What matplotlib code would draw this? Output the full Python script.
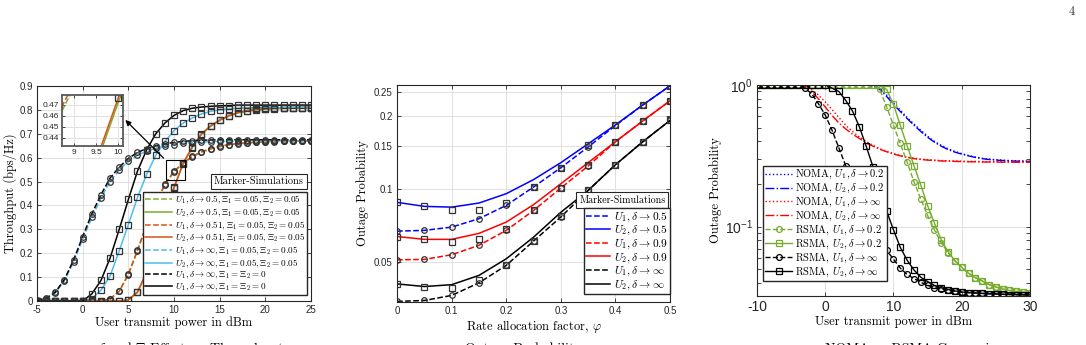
import numpy as np
import matplotlib
matplotlib.use('Agg')
import matplotlib.pyplot as plt
from matplotlib.patches import Rectangle
from matplotlib.ticker import FormatStrFormatter, FixedLocator, NullLocator

plt.rcParams['font.family'] = ['Liberation Sans', 'DejaVu Sans']
plt.rcParams['mathtext.fontset'] = 'cm'
plt.rcParams['axes.unicode_minus'] = False
plt.rcParams['legend.fancybox'] = False
plt.rcParams['legend.edgecolor'] = '0.15'
plt.rcParams['legend.framealpha'] = 1
plt.rcParams['legend.borderaxespad'] = 0
plt.rcParams['legend.borderpad'] = 0.25
plt.rcParams['legend.handletextpad'] = 0.3
plt.rcParams['legend.labelspacing'] = 0.05

# ---------------- panel (a): throughput ----------------
p_a = np.arange(-5, 26)
thr_u1_d05 = [0, 0, 0, 0, 0, 0, 0, 0, 0.008, 0.04, 0.11, 0.21, 0.318, 0.406, 0.486, 0.541, 0.576, 0.603,
              0.623, 0.636, 0.646, 0.653, 0.658, 0.661, 0.664, 0.666, 0.667, 0.668, 0.668, 0.669, 0.669]
thr_u2_d05 = [0, 0, 0, 0, 0, 0, 0, 0, 0, 0, 0.004, 0.036, 0.118, 0.236, 0.358, 0.472, 0.574, 0.642,
              0.697, 0.731, 0.756, 0.774, 0.787, 0.795, 0.8, 0.803, 0.805, 0.806, 0.807, 0.807, 0.808]
thr_u1_d051 = [0, 0, 0, 0, 0, 0, 0, 0, 0.009, 0.041, 0.113, 0.213, 0.321, 0.41, 0.49, 0.544, 0.578, 0.605,
               0.625, 0.638, 0.648, 0.655, 0.66, 0.663, 0.665, 0.667, 0.668, 0.669, 0.67, 0.67, 0.67]
thr_u2_d051 = [0, 0, 0, 0, 0, 0, 0, 0, 0, 0, 0.005, 0.038, 0.121, 0.24, 0.362, 0.476, 0.578, 0.645,
               0.7, 0.733, 0.758, 0.776, 0.789, 0.797, 0.802, 0.805, 0.807, 0.808, 0.809, 0.81, 0.81]
thr_u1_inf = [0.002, 0.01, 0.033, 0.085, 0.163, 0.258, 0.35, 0.43, 0.5, 0.548, 0.585, 0.61, 0.627, 0.64,
              0.649, 0.655, 0.66, 0.663, 0.665, 0.667, 0.668, 0.669, 0.669, 0.67, 0.67, 0.67, 0.67, 0.67,
              0.67, 0.67, 0.67]
thr_u2_inf = [0, 0, 0, 0, 0, 0, 0.01, 0.045, 0.105, 0.21, 0.32, 0.434, 0.53, 0.61, 0.668, 0.713, 0.745,
              0.766, 0.783, 0.794, 0.8, 0.804, 0.807, 0.808, 0.809, 0.81, 0.81, 0.81, 0.81, 0.81, 0.81]
thr_u1_ideal = [0.003, 0.012, 0.037, 0.09, 0.172, 0.27, 0.365, 0.445, 0.515, 0.56, 0.597, 0.622, 0.638,
                0.65, 0.658, 0.664, 0.668, 0.671, 0.673, 0.674, 0.675, 0.675, 0.675, 0.675, 0.675, 0.675,
                0.675, 0.675, 0.675, 0.675, 0.675]
thr_u2_ideal = [0, 0, 0, 0, 0, 0, 0.03, 0.086, 0.18, 0.3, 0.425, 0.544, 0.633, 0.7, 0.745, 0.777, 0.797,
                0.807, 0.812, 0.815, 0.817, 0.818, 0.82, 0.82, 0.82, 0.82, 0.82, 0.82, 0.82, 0.82, 0.82]

green = '#77AC30'
orange = '#D95319'
lblue = '#4DBEEE'
mk = '#333333'

series_a = [
    (thr_u1_d05, green, '--', 'o', r'$U_1, \delta \rightarrow 0.5, \Xi_1 = 0.05, \Xi_2 = 0.05$'),
    (thr_u2_d05, green, '-', 's', r'$U_2, \delta \rightarrow 0.5, \Xi_1 = 0.05, \Xi_2 = 0.05$'),
    (thr_u1_d051, orange, '--', 'o', r'$U_1, \delta \rightarrow 0.51, \Xi_1 = 0.05, \Xi_2 = 0.05$'),
    (thr_u2_d051, orange, '-', 's', r'$U_2, \delta \rightarrow 0.51, \Xi_1 = 0.05, \Xi_2 = 0.05$'),
    (thr_u1_inf, lblue, '--', 'o', r'$U_1, \delta \rightarrow \infty, \Xi_1 = 0.05, \Xi_2 = 0.05$'),
    (thr_u2_inf, lblue, '-', 's', r'$U_2, \delta \rightarrow \infty, \Xi_1 = 0.05, \Xi_2 = 0.05$'),
    (thr_u1_ideal, 'k', '--', 'o', r'$U_1, \delta \rightarrow \infty, \Xi_1 = \Xi_2 = 0$'),
    (thr_u2_ideal, 'k', '-', 's', r'$U_1, \delta \rightarrow \infty, \Xi_1 = \Xi_2 = 0$'),
]

# ---------------- panel (b): outage vs rate allocation ----------------
phi = np.arange(0, 0.501, 0.05)
op_u1_d05 = [0.0669, 0.0674, 0.0695, 0.0753, 0.0854, 0.1016, 0.122, 0.1485, 0.182, 0.221, 0.265]
op_u2_d05 = [0.0879, 0.0846, 0.084, 0.0873, 0.0954, 0.109, 0.128, 0.153, 0.183, 0.221, 0.265]
op_u1_d09 = [0.051, 0.0512, 0.0535, 0.0585, 0.0674, 0.0814, 0.1006, 0.124, 0.156, 0.19, 0.23]
op_u2_d09 = [0.0636, 0.0619, 0.0619, 0.0655, 0.0729, 0.086, 0.1048, 0.128, 0.156, 0.19, 0.23]
op_u1_inf = [0.0344, 0.0347, 0.0364, 0.041, 0.0484, 0.0609, 0.0765, 0.0984, 0.1255, 0.156, 0.191]
op_u2_inf = [0.0406, 0.0396, 0.0403, 0.044, 0.0515, 0.0632, 0.08, 0.0984, 0.1255, 0.156, 0.191]
# simulation markers
sim_u1_d05 = [0.0669, 0.0674, 0.0695, 0.0753, 0.0854, 0.1016, 0.122, 0.1485, 0.182, 0.221, 0.265]
sim_u2_d05 = [0.0879, 0.0846, 0.0814, 0.0814, 0.0876, 0.102, 0.122, 0.151, 0.183, 0.221, 0.265]
sim_u1_d09 = [0.051, 0.0512, 0.0535, 0.0585, 0.0674, 0.0814, 0.1006, 0.124, 0.156, 0.19, 0.23]
sim_u2_d09 = [0.0636, 0.0619, 0.0603, 0.0619, 0.0685, 0.0814, 0.1006, 0.1255, 0.156, 0.19, 0.23]
sim_u1_inf = [0.0344, 0.0347, 0.0364, 0.041, 0.0484, 0.0609, 0.0765, 0.0984, 0.1255, 0.156, 0.191]
sim_u2_inf = [0.0406, 0.0396, 0.039, 0.0422, 0.0487, 0.0609, 0.077, 0.0984, 0.1255, 0.156, 0.191]

series_b = [
    (op_u1_d05, sim_u1_d05, 'b', '--', 'o', r'$U_1, \delta \rightarrow 0.5$'),
    (op_u2_d05, sim_u2_d05, 'b', '-', 's', r'$U_2, \delta \rightarrow 0.5$'),
    (op_u1_d09, sim_u1_d09, 'r', '--', 'o', r'$U_1, \delta \rightarrow 0.9$'),
    (op_u2_d09, sim_u2_d09, 'r', '-', 's', r'$U_2, \delta \rightarrow 0.9$'),
    (op_u1_inf, sim_u1_inf, 'k', '--', 'o', r'$U_1, \delta \rightarrow \infty$'),
    (op_u2_inf, sim_u2_inf, 'k', '-', 's', r'$U_2, \delta \rightarrow \infty$'),
]

# ---------------- panel (c): NOMA vs RSMA ----------------
p_c = np.arange(-10, 31)
noma_u1_d02 = [1]*17 + [0.99, 0.95, 0.85, 0.75, 0.665, 0.59, 0.53, 0.48, 0.435, 0.4, 0.375, 0.355, 0.34,
                        0.328, 0.318, 0.31, 0.304, 0.3, 0.297, 0.295, 0.293, 0.292, 0.291, 0.29]
noma_u2_d02 = [1]*17 + [0.98, 0.93, 0.83, 0.73, 0.65, 0.58, 0.52, 0.47, 0.428, 0.395, 0.37, 0.35, 0.336,
                        0.325, 0.316, 0.308, 0.302, 0.298, 0.295, 0.293, 0.291, 0.29, 0.289, 0.289]
noma_u1_inf = [1]*7 + [0.98, 0.93, 0.85, 0.76, 0.67, 0.59, 0.52, 0.47, 0.43, 0.4, 0.375, 0.355, 0.34,
                       0.328, 0.318, 0.31, 0.305, 0.3, 0.297, 0.295, 0.293, 0.292, 0.291, 0.29, 0.289,
                       0.289, 0.288, 0.288, 0.288, 0.287, 0.287, 0.287, 0.287, 0.287]
noma_u2_inf = [1]*7 + [0.97, 0.9, 0.8, 0.7, 0.61, 0.54, 0.49, 0.45, 0.42, 0.39, 0.37, 0.352, 0.338,
                       0.326, 0.316, 0.308, 0.302, 0.298, 0.295, 0.293, 0.291, 0.29, 0.289, 0.288, 0.287,
                       0.287, 0.286, 0.286, 0.286, 0.285, 0.285, 0.285, 0.285, 0.285]
rsma_u1_d02 = [1]*18 + [0.93, 0.7, 0.52, 0.387, 0.285, 0.208, 0.157, 0.12, 0.095, 0.077, 0.0655, 0.0575,
                        0.0516, 0.047, 0.0436, 0.0414, 0.039, 0.0375, 0.0363, 0.0355, 0.035, 0.0345, 0.034]
rsma_u2_d02 = [1]*19 + [0.93, 0.73, 0.52, 0.373, 0.27, 0.197, 0.141, 0.106, 0.0807, 0.0667, 0.0575,
                        0.0516, 0.047, 0.0436, 0.0414, 0.039, 0.0375, 0.0363, 0.0355, 0.035, 0.0345, 0.034]
rsma_u1_inf = [1]*7 + [0.95, 0.87, 0.74, 0.614, 0.48, 0.36, 0.27, 0.208, 0.163, 0.128, 0.103, 0.083, 0.068,
                       0.059, 0.051, 0.046, 0.043, 0.0405, 0.0385, 0.0372, 0.0363, 0.0355, 0.035, 0.0345,
                       0.0342, 0.034, 0.0338, 0.0336, 0.0335, 0.0333, 0.0332, 0.0331, 0.0331, 0.033]
rsma_u2_inf = [1]*11 + [0.95, 0.9, 0.78, 0.655, 0.508, 0.37, 0.265, 0.181, 0.129, 0.095, 0.0715, 0.058,
                        0.0495, 0.044, 0.041, 0.0385, 0.037, 0.036, 0.0352, 0.0346, 0.0342, 0.034, 0.0338,
                        0.0336, 0.0335, 0.0333, 0.0332, 0.0331, 0.0331, 0.033]


def matlab_axes(ax, fs):
    ax.tick_params(direction='in', which='both', top=True, right=True, labelsize=fs,
                   length=3, width=0.6, colors='0.15', pad=3)
    for s in ax.spines.values():
        s.set_color('0.15')
        s.set_linewidth(0.8)
    ax.grid(True, color='0.88', linewidth=0.7)
    ax.set_axisbelow(True)


serif = 'cmr10'
fig = plt.figure(figsize=(10.86, 3.45), dpi=100)

# ===== panel (a) =====
ax1 = fig.add_axes([0.0341, 0.1275, 0.2523, 0.6232])
handles = []
for y, c, ls, m, lab in series_a:
    h, = ax1.plot(p_a, y, color=c, linestyle=ls, linewidth=1.1, label=lab)
    handles.append(h)
for y, c, ls, m, lab in series_a:
    ax1.plot(p_a, y, linestyle='none', marker=m, ms=4, mfc='none', mec=mk, mew=0.9)
ax1.set_xlim(-5, 25)
ax1.set_ylim(0, 0.9)
ax1.set_xticks(np.arange(-5, 26, 5))
ax1.set_yticks(np.arange(0, 0.91, 0.1))
ax1.yaxis.set_major_formatter(FormatStrFormatter('%g'))
matlab_axes(ax1, 7)
ax1.set_xlabel('User transmit power in dBm', family=serif, fontsize=9, labelpad=1)
ax1.set_ylabel('Throughput (bps/Hz)', family=serif, fontsize=9, labelpad=2)
ax1.legend(handles=handles, loc='upper right', bbox_to_anchor=(0.985, 0.507),
           prop={'family': serif, 'size': 6.6}, handlelength=2.9, labelspacing=0.02,
           borderpad=0.2)
ax1.text(0.81, 0.556, 'Marker-Simulations', transform=ax1.transAxes, ha='center', va='center',
         family=serif, fontsize=7.5,
         bbox=dict(boxstyle='square,pad=0.3', fc='white', ec='0.15', lw=0.8))
ax1.add_patch(Rectangle((9.07, 0.505), 2.08, 0.085, fill=False, ec='k', lw=0.8, zorder=5))
ax1.annotate('', xy=(4.45, 0.766), xytext=(9.07, 0.59),
             arrowprops=dict(arrowstyle='-|>', color='k', lw=0.9, mutation_scale=8), zorder=6)

axin = fig.add_axes([0.0571, 0.5768, 0.0562, 0.1478])
for y, c, ls, m, lab in series_a[:4]:
    axin.plot(p_a, y, color=c, linestyle=ls, linewidth=1.1)
axin.plot(p_a, thr_u2_d051, linestyle='none', marker='s', ms=4, mfc='none', mec=mk, mew=0.9)
axin.set_xlim(8.73, 10.11)
axin.set_ylim(0.4324, 0.4788)
axin.set_xticks([9, 9.5, 10])
axin.set_yticks([0.44, 0.45, 0.46, 0.47])
axin.xaxis.set_major_formatter(FormatStrFormatter('%g'))
matlab_axes(axin, 6)
axin.tick_params(length=2, pad=2)
for s in axin.spines.values():
    s.set_linewidth(1.3)
    s.set_color('0.35')

# ===== panel (b) =====
ax2 = fig.add_axes([0.3656, 0.1246, 0.2514, 0.629])
handles = []
for y, sim, c, ls, m, lab in series_b:
    h, = ax2.plot(phi, y, color=c, linestyle=ls, linewidth=1.1, label=lab)
    handles.append(h)
for y, sim, c, ls, m, lab in series_b:
    ax2.plot(phi, sim, linestyle='none', marker=m, ms=4, mfc='none', mec=mk, mew=0.9)
ax2.set_yscale('log')
ax2.set_xlim(0, 0.5)
ax2.set_ylim(0.0342, 0.267)
ax2.set_xticks(np.arange(0, 0.51, 0.1))
ax2.xaxis.set_major_formatter(FormatStrFormatter('%g'))
ax2.yaxis.set_major_locator(FixedLocator([0.05, 0.1, 0.15, 0.2, 0.25]))
ax2.yaxis.set_major_formatter(FormatStrFormatter('%g'))
ax2.yaxis.set_minor_locator(NullLocator())
matlab_axes(ax2, 7)
ax2.set_xlabel(r'Rate allocation factor, $\varphi$', family=serif, fontsize=9, labelpad=1)
ax2.set_ylabel('Outage Probability', family=serif, fontsize=9, labelpad=4)
ax2.legend(handles=handles, loc='upper right', bbox_to_anchor=(1.0, 0.433),
           prop={'family': serif, 'size': 8.2}, handlelength=2.1, labelspacing=0.02,
           borderpad=0.2)
ax2.text(0.825, 0.47, 'Marker-Simulations', transform=ax2.transAxes, ha='center', va='center',
         family=serif, fontsize=7.2,
         bbox=dict(boxstyle='square,pad=0.3', fc='white', ec='0.15', lw=0.8))

# ===== panel (c) =====
ax3 = fig.add_axes([0.697, 0.142, 0.2514, 0.6116])
ax3.plot(p_c, noma_u1_d02, color='b', linestyle=':', linewidth=1.0, label=r'NOMA, $U_1, \delta \rightarrow 0.2$')
ax3.plot(p_c, noma_u2_d02, color='b', linestyle='-.', linewidth=1.0, label=r'NOMA, $U_2, \delta \rightarrow 0.2$')
ax3.plot(p_c, noma_u1_inf, color='r', linestyle=':', linewidth=1.0, label=r'NOMA, $U_1, \delta \rightarrow \infty$')
ax3.plot(p_c, noma_u2_inf, color='r', linestyle='-.', linewidth=1.0, label=r'NOMA, $U_2, \delta \rightarrow \infty$')
ax3.plot(p_c, rsma_u1_d02, color=green, linestyle='--', marker='o', ms=4.2, mfc='none', mew=0.9,
         linewidth=1.0, label=r'RSMA, $U_1, \delta \rightarrow 0.2$')
ax3.plot(p_c, rsma_u2_d02, color=green, linestyle='-', marker='s', ms=4.2, mfc='none', mew=0.9,
         linewidth=1.0, label=r'RSMA, $U_2, \delta \rightarrow 0.2$')
ax3.plot(p_c, rsma_u1_inf, color='k', linestyle='--', marker='o', ms=4.2, mfc='none', mew=0.9,
         linewidth=1.0, label=r'RSMA, $U_1, \delta \rightarrow \infty$')
ax3.plot(p_c, rsma_u2_inf, color='k', linestyle='-', marker='s', ms=4.2, mfc='none', mew=0.9,
         linewidth=1.0, label=r'RSMA, $U_2, \delta \rightarrow \infty$')
ax3.set_yscale('log')
ax3.set_xlim(-10, 30)
ax3.set_ylim(0.0324, 1.0)
ax3.set_xticks(np.arange(-10, 31, 10))
matlab_axes(ax3, 10)
ax3.set_xlabel('User transmit power in dBm', family=serif, fontsize=9, labelpad=1)
ax3.set_ylabel('Outage Probability', family=serif, fontsize=9, labelpad=2)
ax3.legend(loc='upper left', bbox_to_anchor=(0.022, 0.616),
           prop={'family': serif, 'size': 7.5}, handlelength=2.6, labelspacing=0.05,
           borderpad=0.2)

# page number and (clipped) captions
fig.text(0.99, 0.965, '4', family=serif, fontsize=9, ha='right', va='center', color='0.2')
fig.text(0.176, -0.021, r'$\delta$ and $\Xi$ Effect on Throughput', family=serif, fontsize=10, ha='center', va='baseline')
fig.text(0.482, -0.021, 'Outage Probability', family=serif, fontsize=10, ha='center', va='baseline')
fig.text(0.845, -0.021, 'NOMA vs RSMA Comparison', family=serif, fontsize=10, ha='center', va='baseline')

fig.savefig('out.png', dpi=100)
